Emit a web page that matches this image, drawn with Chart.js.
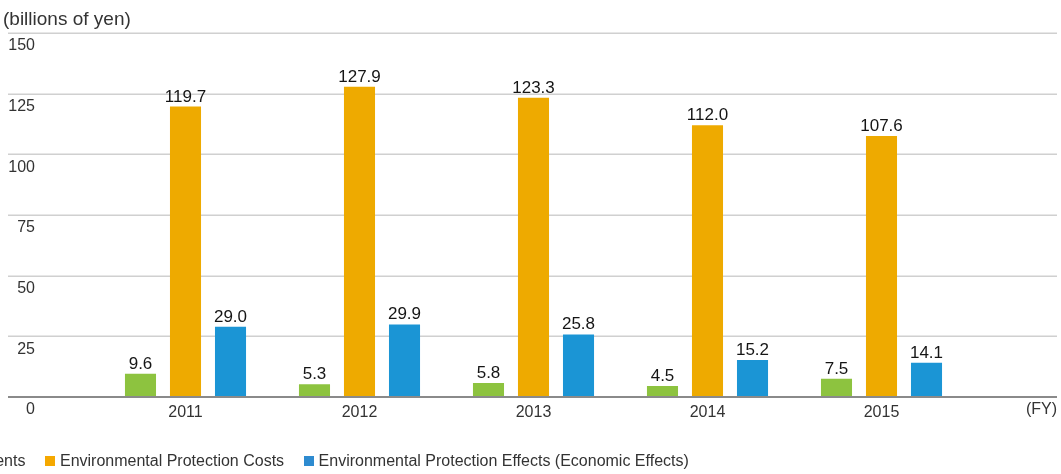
<!DOCTYPE html>
<html>
<head>
<meta charset="utf-8">
<script src="https://cdn.jsdelivr.net/npm/chart.js@4.4.1/dist/chart.umd.min.js"></script>
<style>
  html, body { margin: 0; padding: 0; background: #fff; overflow: hidden; }
  body { width: 1061px; height: 474px; position: relative; font-family: "Helvetica Neue", "Liberation Sans", Arial, sans-serif; color: #333; }
  #wrap { position: absolute; left: 0; top: 0; width: 1061px; height: 474px; }
  .unit { position: absolute; left: 3px; top: 7px; font-size: 19px; line-height: 24px; color: #333; white-space: nowrap; }
  .legend { position: absolute; left: -259px; top: 451px; display: flex; font-size: 16px; line-height: 20px; white-space: nowrap; color: #333; }
  .legend-item { display: flex; align-items: center; margin-right: 19.5px; }
  .legend-box { width: 10px; height: 10px; margin-right: 5px; }
</style>
</head>
<body>
<div id="wrap"><canvas id="chart" width="1061" height="474"></canvas></div>
<div class="unit">(billions of yen)</div>
<div class="legend" id="legend"></div>
<script>
const years       = ['2011', '2012', '2013', '2014', '2015'];
const investments = [9.6, 5.3, 5.8, 4.5, 7.5];
const costs       = [119.7, 127.9, 123.3, 112.0, 107.6];
const effects     = [29.0, 29.9, 25.8, 15.2, 14.1];
const yTicks      = [0, 25, 50, 75, 100, 125, 150];

const GREEN  = '#8dc33f';
const ORANGE = '#eeaa00';
const BLUE   = '#1b95d5';
const FONT   = '"Helvetica Neue", "Liberation Sans", Arial, sans-serif';

const series = [
  { label: 'Environmental Protection Investments', data: investments, color: GREEN,  legend: '#8dc33f' },
  { label: 'Environmental Protection Costs',       data: costs,       color: ORANGE, legend: '#f5a800' },
  { label: 'Environmental Protection Effects (Economic Effects)', data: effects, color: BLUE, legend: '#2e8bd0' },
];

document.getElementById('legend').innerHTML = series.map(s =>
  `<div class="legend-item"><span class="legend-box" style="background:${s.legend}"></span>${s.label}</div>`
).join('');

// grid, axis line and all texts drawn from the scales
const decor = {
  id: 'decor',
  beforeDatasetsDraw(chart) {
    const { ctx, scales: { y } } = chart;
    ctx.save();
    ctx.strokeStyle = '#d0d0d0';
    ctx.lineWidth = 1.5;
    yTicks.forEach(v => {
      if (v === 0) return;
      const py = Math.round(y.getPixelForValue(v)) + 0.25;
      ctx.beginPath(); ctx.moveTo(8, py); ctx.lineTo(1057, py); ctx.stroke();
    });
    ctx.restore();
  },
  afterDatasetsDraw(chart) {
    const { ctx, scales: { x, y } } = chart;
    ctx.save();
    // axis line
    const y0 = y.getPixelForValue(0);
    ctx.strokeStyle = '#8a8a8a';
    ctx.lineWidth = 2;
    ctx.beginPath(); ctx.moveTo(8, y0); ctx.lineTo(1057, y0); ctx.stroke();

    // y labels, below each grid line
    ctx.fillStyle = '#333';
    ctx.font = `16px ${FONT}`;
    ctx.textAlign = 'right';
    ctx.textBaseline = 'middle';
    yTicks.forEach(v => ctx.fillText(String(v), 35, y.getPixelForValue(v) + 13));

    // x labels
    ctx.textAlign = 'center';
    years.forEach((yr, i) => ctx.fillText(yr, x.getPixelForValue(i), y0 + 16));
    ctx.textAlign = 'right';
    ctx.fillText('(FY)', 1057, y0 + 13);

    // value labels
    ctx.fillStyle = '#151515';
    ctx.font = `17px ${FONT}`;
    ctx.textAlign = 'center';
    ctx.textBaseline = 'alphabetic';
    chart.data.datasets.forEach((ds, di) => {
      chart.getDatasetMeta(di).data.forEach((bar, i) => {
        ctx.fillText(ds.data[i].toFixed(1), bar.x, bar.y - 5);
      });
    });
    ctx.restore();
  }
};

new Chart(document.getElementById('chart'), {
  type: 'bar',
  data: {
    labels: years,
    datasets: series.map(s => ({
      label: s.label,
      data: s.data,
      backgroundColor: s.color,
      borderWidth: 0,
      categoryPercentage: 0.776,
      barPercentage: 0.69,
    })),
  },
  options: {
    responsive: false,
    animation: false,
    layout: { padding: { left: 98.5, right: 92.5, top: 33, bottom: 77 } },
    plugins: { legend: { display: false }, tooltip: { enabled: false } },
    scales: {
      x: { display: false, offset: true },
      y: { display: false, min: 0, max: 150 },
    },
  },
  plugins: [decor],
});
</script>
</body>
</html>
